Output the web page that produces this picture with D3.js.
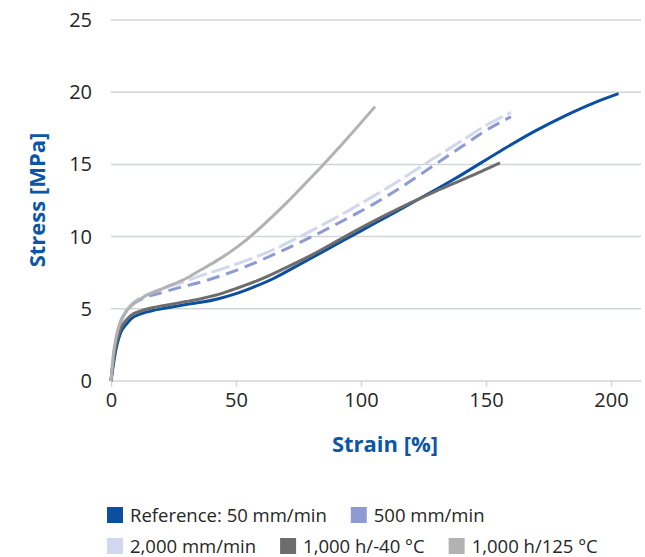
<!DOCTYPE html>
<html>
<head>
<meta charset="utf-8">
<script src="https://cdn.jsdelivr.net/npm/d3@7"></script>
<style>
  html, body { margin: 0; padding: 0; background: #fff; }
  svg { display: block; }
  text { font-family: "Open Sans", "Noto Sans", sans-serif; }
</style>
</head>
<body>
<svg id="chart" width="645" height="557"></svg>
<script>
// ---- data ----
const xTicks = [0, 50, 100, 150, 200];
const yTicks = [0, 5, 10, 15, 20, 25];
const seriesNames = ["Reference: 50 mm/min", "500 mm/min", "2,000 mm/min", "1,000 h/-40 °C", "1,000 h/125 °C"];
const seriesColors = ["#0b4fa1", "#8e9bd3", "#d2d7ee", "#6d6d6d", "#b2b2b2"];
const seriesDash = ["", "13,7", "19,5", "", ""];

const reference50 = [[0,0],[1,1.2],[2,2.2],[3,2.9],[4,3.4],[6,3.9],[8,4.3],[12,4.65],[16,4.85],[22,5.05],[30,5.3],[36,5.45],[43,5.7],[50,6.05],[57,6.5],[65,7.1],[72,7.75],[80,8.5],[90,9.45],[100,10.4],[110,11.35],[120,12.3],[137,13.95],[156,15.95],[169,17.25],[182,18.4],[193,19.25],[203,19.9]];
const rate500 = [[0,0],[1,1.7],[2,2.8],[3,3.6],[5,4.5],[8,5.2],[12,5.65],[20,6.1],[28,6.5],[36,6.85],[45,7.35],[55,8.0],[65,8.75],[75,9.55],[85,10.4],[95,11.3],[105,12.25],[115,13.3],[128,14.8],[140,16.2],[150,17.35],[160,18.3]];
const rate2000 = [[0,0],[1,1.8],[2,2.9],[3,3.7],[5,4.6],[8,5.3],[12,5.8],[20,6.35],[28,6.8],[36,7.3],[45,7.8],[55,8.4],[65,9.1],[75,9.95],[85,10.85],[95,11.8],[105,12.8],[115,13.85],[128,15.3],[140,16.6],[150,17.7],[160,18.6]];
const aged40 = [[0,0],[1,1.4],[2,2.5],[3,3.2],[4,3.7],[6,4.2],[8,4.55],[12,4.85],[16,5.05],[22,5.25],[30,5.5],[36,5.7],[45,6.1],[50,6.4],[60,7.05],[70,7.85],[80,8.7],[90,9.65],[100,10.6],[110,11.5],[120,12.35],[130,13.15],[140,13.9],[148,14.5],[155.6,15.1]];
const aged125 = [[0,0],[1,1.9],[2,3.0],[3,3.7],[4,4.2],[6,4.8],[9,5.35],[14,5.9],[22,6.5],[30,7.1],[36,7.7],[42,8.3],[49,9.1],[55,9.9],[64,11.3],[70,12.3],[77,13.55],[85,15.0],[95,16.9],[105.6,19.0]];
const seriesData = [reference50, rate500, rate2000, aged40, aged125];

// ---- chart ----
const svg = d3.select("#chart");
const x = d3.scaleLinear().domain([0, 212]).range([111, 641]);
const y = d3.scaleLinear().domain([0, 25]).range([381, 20]);

// gridlines
svg.append("g")
  .selectAll("line")
  .data(yTicks)
  .join("line")
  .attr("x1", x(0)).attr("x2", x(212))
  .attr("y1", d => y(d)).attr("y2", d => y(d))
  .attr("stroke", "#d2d5d8").attr("stroke-width", 1.5);

// x axis
const xAxis = svg.append("g")
  .attr("transform", `translate(0,${y(0)})`)
  .call(d3.axisBottom(x).tickValues(xTicks).tickSize(6).tickPadding(6).tickFormat(d3.format("d")));
xAxis.select(".domain").remove();
xAxis.selectAll(".tick line").attr("stroke", "#d2d5d8").attr("stroke-width", 1.5);
xAxis.selectAll(".tick text").attr("fill", "#262626").style("font-size", "20px").attr("font-family", null);

// y axis
const yAxis = svg.append("g")
  .attr("transform", `translate(${x(0) - 17},0)`)
  .call(d3.axisLeft(y).tickValues(yTicks).tickSize(0).tickPadding(2).tickFormat(d3.format("d")));
yAxis.select(".domain").remove();
yAxis.selectAll(".tick text").attr("fill", "#262626").style("font-size", "20px").attr("font-family", null);

// lines
const line = d3.line().x(d => x(d[0])).y(d => y(d[1])).curve(d3.curveMonotoneX);
const order = [2, 1, 0, 3, 4];
svg.append("g")
  .selectAll("path")
  .data(order)
  .join("path")
  .attr("d", i => line(seriesData[i]))
  .attr("fill", "none")
  .attr("stroke", i => seriesColors[i])
  .attr("stroke-width", 3)
  .attr("stroke-dasharray", i => seriesDash[i] || null)
  .attr("stroke-linecap", "butt")
  .attr("stroke-linejoin", "round");

// axis titles
svg.append("text")
  .attr("x", 385).attr("y", 452)
  .attr("text-anchor", "middle")
  .attr("fill", "#0b56a6")
  .style("font-size", "22px").style("font-weight", "700")
  .text("Strain [%]");
svg.append("text")
  .attr("transform", "translate(45,200) rotate(-90)")
  .attr("text-anchor", "middle")
  .attr("fill", "#0b56a6")
  .style("font-size", "22px").style("font-weight", "700")
  .text("Stress [MPa]");

// legend
const rows = [[0, 1], [2, 3, 4]];
const rowY = [515, 546];
rows.forEach((row, r) => {
  let cx = 107;
  row.forEach(i => {
    const g = svg.append("g");
    g.append("rect")
      .attr("x", cx).attr("y", rowY[r] - 8)
      .attr("width", 16).attr("height", 16)
      .attr("fill", seriesColors[i]);
    const t = g.append("text")
      .attr("x", cx + 23).attr("y", rowY[r] + 7)
      .attr("fill", "#262626")
      .style("font-size", "18.5px")
      .text(seriesNames[i]);
    cx = cx + 23 + t.node().getComputedTextLength() + 24;
  });
});
</script>
</body>
</html>
